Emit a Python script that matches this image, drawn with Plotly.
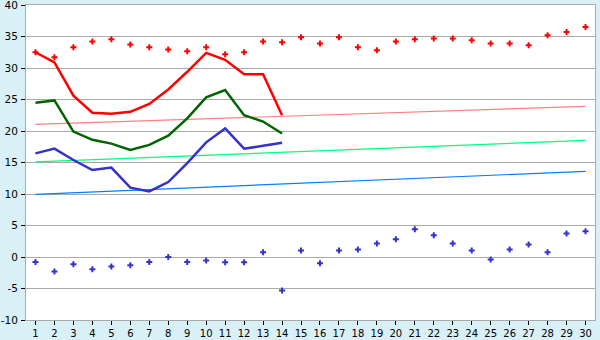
import plotly.graph_objects as go

days = list(range(1, 31))
day_labels = [str(d) for d in days]
y_ticks = list(range(-10, 41, 5))
y_labels = ["-10", "-5", "0", "5", "10", "15", "20", "25", "30", "35", "40"]

rec_max = [32.5, 31.7, 33.3, 34.2, 34.55, 33.75, 33.3, 32.95, 32.65, 33.3,
           32.2, 32.5, 34.2, 34.1, 34.9, 33.9, 34.9, 33.3, 32.8, 34.2,
           34.55, 34.7, 34.7, 34.4, 33.9, 33.9, 33.6, 35.2, 35.7, 36.5]
rec_min = [-0.8, -2.3, -1.15, -1.95, -1.5, -1.3, -0.8, 0.0, -0.8, -0.55,
           -0.85, -0.85, 0.75, -5.3, 1.05, -1.0, 1.05, 1.2, 2.15, 2.8,
           4.4, 3.45, 2.15, 1.05, -0.4, 1.2, 2.0, 0.75, 3.75, 4.1]

obs_days = list(range(1, 15))
obs_max = [32.5, 30.9, 25.6, 22.9, 22.75, 23.05, 24.3, 26.6, 29.4, 32.4,
           31.3, 29.0, 29.0, 22.5]
obs_mean = [24.5, 24.85, 19.9, 18.6, 18.0, 17.0, 17.8, 19.25, 22.0, 25.35,
            26.5, 22.5, 21.5, 19.6]
obs_min = [16.45, 17.2, 15.4, 13.8, 14.2, 11.0, 10.4, 11.9, 14.9, 18.2,
           20.4, 17.2, 17.65, 18.15]

norm_days = [1, 30]
norm_max = [21.05, 23.9]
norm_mean = [15.1, 18.5]
norm_min = [9.95, 13.6]

fig = go.Figure()

fig.add_trace(go.Scatter(x=norm_days, y=norm_max, mode="lines",
                         line=dict(color="#ff8080", width=1.2), hoverinfo="skip"))
fig.add_trace(go.Scatter(x=norm_days, y=norm_mean, mode="lines",
                         line=dict(color="#00ff80", width=1.2), hoverinfo="skip"))
fig.add_trace(go.Scatter(x=norm_days, y=norm_min, mode="lines",
                         line=dict(color="#0080ff", width=1.2), hoverinfo="skip"))

fig.add_trace(go.Scatter(x=obs_days, y=obs_max, mode="lines",
                         line=dict(color="#ff0000", width=2.5)))
fig.add_trace(go.Scatter(x=obs_days, y=obs_mean, mode="lines",
                         line=dict(color="#006400", width=2.5)))
fig.add_trace(go.Scatter(x=obs_days, y=obs_min, mode="lines",
                         line=dict(color="#3333cc", width=2.5)))

fig.add_trace(go.Scatter(x=days, y=rec_max, mode="markers",
                         marker=dict(symbol="cross", size=5, color="#ff0000")))
fig.add_trace(go.Scatter(x=days, y=rec_min, mode="markers",
                         marker=dict(symbol="cross", size=5, color="#3333cc")))

fig.update_layout(
    width=600, height=340,
    margin=dict(l=26, r=5, t=5, b=20, autoexpand=False),
    paper_bgcolor="#d9f0f6",
    plot_bgcolor="#ffffff",
    showlegend=False,
    font=dict(family="DejaVu Sans", size=10, color="#000000"),
)
fig.update_xaxes(
    range=[0.5, 30.5], tickmode="array", tickvals=days, ticktext=day_labels,
    showgrid=False, zeroline=False, automargin=False,
    showline=True, linecolor="#aaaaaa", linewidth=1, mirror=True,
    ticks="outside", ticklen=4, tickcolor="#000000", tickwidth=1,
    tickfont=dict(size=10), ticklabeloverflow="allow", ticklabelstandoff=0,
)
fig.update_yaxes(
    range=[-10, 40], tickmode="array", tickvals=y_ticks, ticktext=y_labels,
    showgrid=True, gridcolor="#aaaaaa", gridwidth=1, zeroline=False, automargin=False,
    showline=True, linecolor="#aaaaaa", linewidth=1, mirror=True,
    ticks="outside", ticklen=4, tickcolor="#000000", tickwidth=1,
    tickfont=dict(size=10.5), ticklabeloverflow="allow", ticklabelstandoff=1,
)

fig.write_html("out.html")
